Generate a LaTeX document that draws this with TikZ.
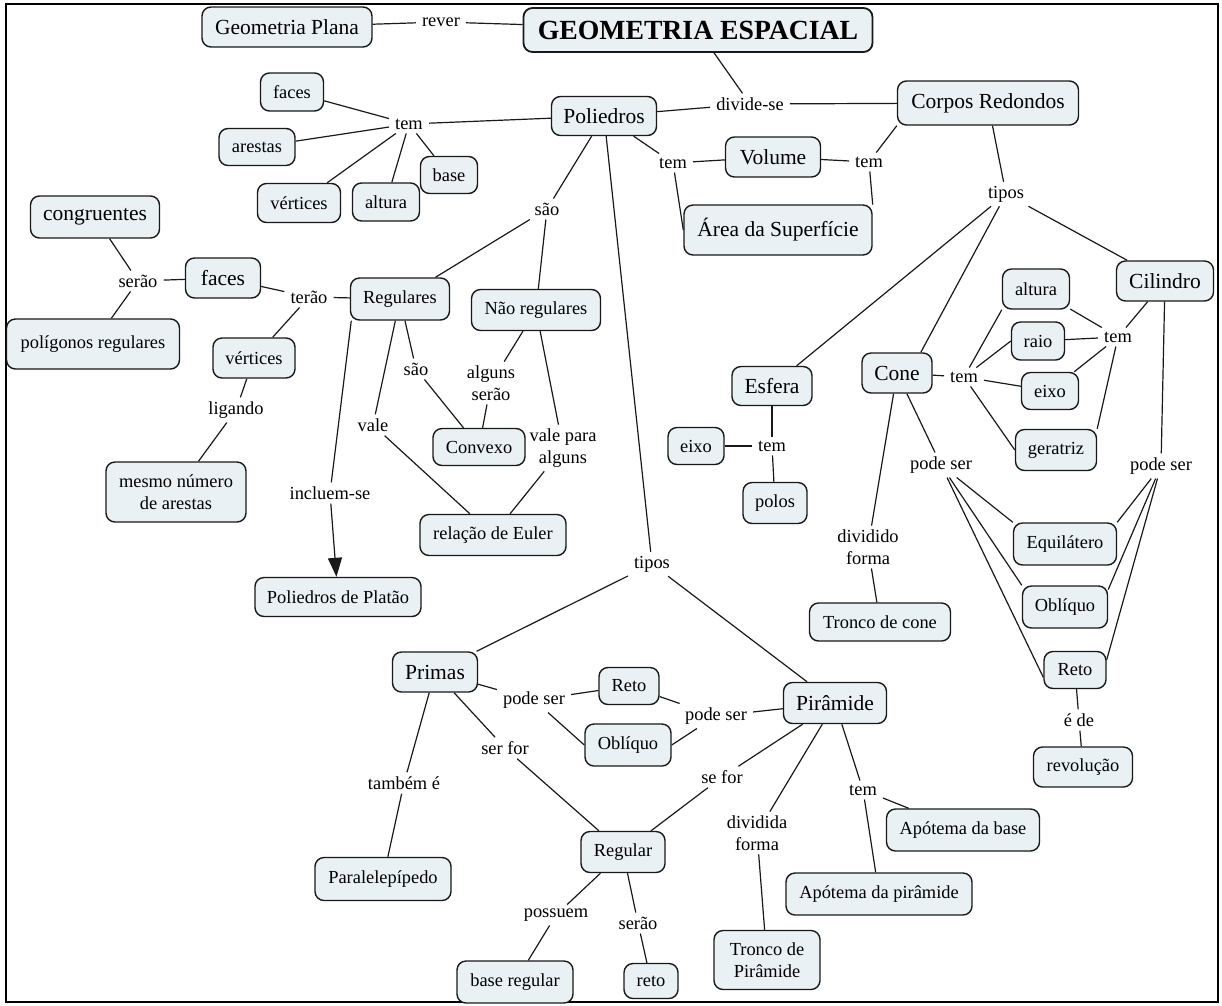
\documentclass[tikz,border=0pt]{standalone}
\usepackage{fontspec}
\setmainfont{Liberation Serif}
\usetikzlibrary{arrows.meta}
\definecolor{cfill}{RGB}{233,241,245}
\begin{document}
\begin{tikzpicture}[x=1pt,y=-1pt,
  concept/.style={draw=black!90, line width=1.4pt, fill=cfill, rounded corners=9pt,
                  inner sep=0pt, align=center},
  sz/.style 2 args={minimum width=#1, minimum height=#2},
  csmall/.style={font=\fontsize{18.4}{21.5}\selectfont},
  cbig/.style={font=\fontsize{21.5}{25}\selectfont},
  lbl/.style={inner xsep=6pt, inner ysep=4pt, align=center,
              font=\fontsize{18.4}{21.5}\selectfont},
  link/.style={line width=1.2pt, draw=black!90}
]
\fill[white] (0,0) rectangle (1222,1005);
\useasboundingbox (0,0) rectangle (1222,1005);
\draw[line width=2pt] (6,4) rectangle (1218,1002);

% ---- concepts ----
\node[concept,cbig,sz={170}{40}] (geoplana) at (287,27) {Geometria Plana};
\node[concept,sz={349}{44},line width=1.8pt,font=\fontsize{27.7}{32}\selectfont\bfseries] (title) at (698,30) {GEOMETRIA ESPACIAL};
\node[concept,cbig,sz={105}{39}] (poli) at (604,116) {Poliedros};
\node[concept,cbig,sz={181}{44}] (corpos) at (988,103) {Corpos Redondos};
\node[concept,cbig,sz={95}{40}] (volume) at (773,157) {Volume};
\node[concept,cbig,sz={188}{50}] (area) at (778,230) {Área da Superfície};
\node[concept,csmall,sz={63}{38}] (facesA) at (292,92) {faces};
\node[concept,csmall,sz={76}{37}] (arestas) at (257,147) {arestas};
\node[concept,csmall,sz={83}{39}] (vertA) at (299,203) {vértices};
\node[concept,csmall,sz={67}{38}] (alturaA) at (386,202) {altura};
\node[concept,csmall,sz={57}{37}] (base) at (449,175) {base};
\node[concept,cbig,sz={129}{42}] (congr) at (95,217) {congruentes};
\node[concept,cbig,sz={75}{40}] (facesB) at (223,278) {faces};
\node[concept,csmall,sz={173}{50}] (poligonos) at (93,344) {polígonos regulares};
\node[concept,csmall,sz={99}{42}] (regs) at (400,299) {Regulares};
\node[concept,csmall,sz={82}{40}] (vertB) at (254,358) {vértices};
\node[concept,csmall,sz={129}{41}] (naoreg) at (536,310) {Não regulares};
\node[concept,csmall,sz={92}{37}] (convexo) at (479,447) {Convexo};
\node[concept,csmall,sz={146}{41}] (euler) at (493,535) {relação de Euler};
\node[concept,csmall,sz={140}{60}] (mesmo) at (176,492) {mesmo número\\de arestas};
\node[concept,csmall,sz={166}{39}] (platao) at (338,597) {Poliedros de Platão};
\node[concept,cbig,sz={80}{39}] (esfera) at (772,386) {Esfera};
\node[concept,csmall,sz={56}{37}] (eixoA) at (696,446) {eixo};
\node[concept,csmall,sz={64}{41}] (polos) at (775,503) {polos};
\node[concept,cbig,sz={70}{40}] (cone) at (897,373) {Cone};
\node[concept,csmall,sz={67}{40}] (alturaB) at (1036,289) {altura};
\node[concept,csmall,sz={53}{38}] (raio) at (1038,341) {raio};
\node[concept,csmall,sz={57}{37}] (eixoB) at (1050,391) {eixo};
\node[concept,csmall,sz={81}{41}] (geratriz) at (1056,450) {geratriz};
\node[concept,cbig,sz={97}{40}] (cilindro) at (1165,281) {Cilindro};
\node[concept,csmall,sz={103}{42}] (equil) at (1065,544) {Equilátero};
\node[concept,csmall,sz={85}{42}] (obliquoA) at (1065,607) {Oblíquo};
\node[concept,csmall,sz={62}{37}] (retoA) at (1075,670) {Reto};
\node[concept,csmall,sz={99}{40}] (revol) at (1083,767) {revolução};
\node[concept,csmall,sz={141}{38}] (troncocone) at (880,622) {Tronco de cone};
\node[concept,cbig,sz={85}{40}] (primas) at (435,672) {Primas};
\node[concept,csmall,sz={60}{37}] (retoB) at (629,686) {Reto};
\node[concept,csmall,sz={86}{42}] (obliquoB) at (628,745) {Oblíquo};
\node[concept,cbig,sz={103}{41}] (piramide) at (835,703) {Pirâmide};
\node[concept,csmall,sz={136}{43}] (paralel) at (383,879) {Paralelepípedo};
\node[concept,csmall,sz={84}{41}] (regular) at (623,852) {Regular};
\node[concept,csmall,sz={116}{42}] (basereg) at (515,982) {base regular};
\node[concept,csmall,sz={54}{35}] (reto) at (651,981) {reto};
\node[concept,csmall,sz={106}{59}] (troncopir) at (767,960) {Tronco de\\Pirâmide};
\node[concept,csmall,sz={153}{42}] (apbase) at (963,830) {Apótema da base};
\node[concept,csmall,sz={186}{42}] (appir) at (879,894) {Apótema da pirâmide};

% ---- linking phrases ----
\node[lbl] (lrever) at (441,22) {rever};
\node[lbl] (ldivide) at (750,104) {divide-se};
\node[lbl] (ltemA) at (409,124) {tem};
\node[lbl] (ltemB) at (673,163) {tem};
\node[lbl] (ltemC) at (869,162) {tem};
\node[lbl] (ltiposA) at (1006,194) {tipos};
\node[lbl] (lsaoA) at (547,209) {são};
\node[lbl] (ltiposB) at (652,564) {tipos};
\node[lbl] (lseraoA) at (138,281) {serão};
\node[lbl] (lterao) at (309,297) {terão};
\node[lbl] (lligando) at (236,410) {ligando};
\node[lbl] (lincluem) at (330,493) {incluem-se};
\node[lbl] (lvale) at (373,425) {vale};
\node[lbl] (lsaoB) at (416,369) {são};
\node[lbl] (lalguns) at (491,383) {alguns\\serão};
\node[lbl] (lvalepara) at (563,448) {vale para\\alguns};
\node[lbl] (ltemD) at (772,446) {tem};
\node[lbl] (ltemE) at (964,377) {tem};
\node[lbl] (ltemF) at (1118,337) {tem};
\node[lbl] (lpodeA) at (941,465) {pode ser};
\node[lbl] (lpodeB) at (1161,466) {pode ser};
\node[lbl] (lede) at (1079,720) {é de};
\node[lbl] (ldividido) at (868,547) {dividido\\forma};
\node[lbl] (lpodeC) at (534,700) {pode ser};
\node[lbl] (lserfor) at (505,748) {ser for};
\node[lbl] (ltambem) at (404,783) {também é};
\node[lbl] (lpodeD) at (716,716) {pode ser};
\node[lbl] (lsefor) at (722,777) {se for};
\node[lbl] (ldividida) at (757,833) {dividida\\forma};
\node[lbl] (ltemG) at (863,790) {tem};
\node[lbl] (lpossuem) at (556,915) {possuem};
\node[lbl] (lseraoB) at (638,923) {serão};

% ---- connectors ----
\draw[link] (geoplana) -- (lrever);
\draw[link] (lrever) -- (title);
\draw[link] (title) -- (ldivide);
\draw[link] (ldivide) -- (poli);
\draw[link] (ldivide) -- (corpos);
\draw[link] (poli) -- (ltemA);
\draw[link] (ltemA) -- (facesA);
\draw[link] (ltemA) -- (arestas);
\draw[link] (ltemA) -- (vertA);
\draw[link] (ltemA) -- (alturaA);
\draw[link] (ltemA) -- (base);
\draw[link] (poli) -- (ltemB);
\draw[link] (ltemB) -- (volume);
\draw[link] (ltemB) -- (area.west);
\draw[link] (corpos.south west) -- (ltemC);
\draw[link] (ltemC) -- (volume);
\draw[link] (ltemC) -- (area.15);
\draw[link] (corpos) -- (ltiposA);
\draw[link] (ltiposA) -- (cilindro);
\draw[link] (ltiposA) -- (esfera);
\draw[link] (ltiposA) -- (cone.41);
\draw[link] (poli) -- (lsaoA);
\draw[link] (lsaoA) -- (regs);
\draw[link] (lsaoA) -- (naoreg);
\draw[link] (poli) -- (ltiposB);
\draw[link] (ltiposB) -- (primas);
\draw[link] (ltiposB) -- (piramide);
\draw[link] (congr) -- (lseraoA);
\draw[link] (lseraoA) -- (facesB);
\draw[link] (lseraoA) -- (poligonos);
\draw[link] (facesB) -- (lterao);
\draw[link] (lterao) -- (regs);
\draw[link] (lterao) -- (vertB);
\draw[link] (vertB) -- (lligando);
\draw[link] (lligando) -- (mesmo);
\draw[link] (regs.204) -- (lincluem);
\draw[link,-{Triangle[length=19pt,width=14pt]}] (lincluem) -- (platao);
\draw[link] (regs) -- (lvale);
\draw[link] (lvale) -- (euler);
\draw[link] (regs) -- (lsaoB);
\draw[link] (lsaoB) -- (convexo);
\draw[link] (naoreg) -- (lalguns);
\draw[link] (lalguns) -- (convexo);
\draw[link] (naoreg) -- (lvalepara);
\draw[link] (lvalepara) -- (euler);
\draw[link] (esfera) -- (ltemD);
\draw[link] (ltemD) -- (eixoA);
\draw[link] (ltemD) -- (polos);
\draw[link] (cone) -- (ltemE);
\draw[link] (ltemE) -- (alturaB.south west);
\draw[link] (ltemE) -- (raio.west);
\draw[link] (ltemE) -- (eixoB);
\draw[link] (ltemE) -- (geratriz.west);
\draw[link] (cilindro) -- (ltemF);
\draw[link] (ltemF) -- (alturaB);
\draw[link] (ltemF) -- (raio);
\draw[link] (ltemF) -- (eixoB);
\draw[link] (ltemF) -- (geratriz.north east);
\draw[link] (cilindro) -- (lpodeB);
\draw[link] (lpodeB) -- (equil.north east);
\draw[link] (lpodeB) -- (obliquoA.22);
\draw[link] (lpodeB) -- (retoA.18);
\draw[link] (cone) -- (lpodeA);
\draw[link] (lpodeA) -- (equil.north west);
\draw[link] (lpodeA) -- (obliquoA.north west);
\draw[link] (lpodeA) -- (retoA.193);
\draw[link] (cone) -- (ldividido);
\draw[link] (ldividido) -- (troncocone);
\draw[link] (retoA) -- (lede);
\draw[link] (lede) -- (revol);
\draw[link] (primas) -- (lpodeC);
\draw[link] (lpodeC) -- (retoB);
\draw[link] (lpodeC) -- (obliquoB.west);
\draw[link] (primas) -- (lserfor);
\draw[link] (lserfor) -- (regular);
\draw[link] (primas) -- (ltambem);
\draw[link] (ltambem) -- (paralel);
\draw[link] (piramide) -- (lpodeD);
\draw[link] (lpodeD) -- (retoB);
\draw[link] (lpodeD) -- (obliquoB.east);
\draw[link] (piramide) -- (lsefor);
\draw[link] (lsefor) -- (regular);
\draw[link] (piramide) -- (ldividida);
\draw[link] (ldividida) -- (troncopir);
\draw[link] (piramide) -- (ltemG);
\draw[link] (ltemG) -- (apbase);
\draw[link] (ltemG) -- (appir);
\draw[link] (regular) -- (lpossuem);
\draw[link] (lpossuem) -- (basereg);
\draw[link] (regular) -- (lseraoB);
\draw[link] (lseraoB) -- (reto);
\end{tikzpicture}
\end{document}
